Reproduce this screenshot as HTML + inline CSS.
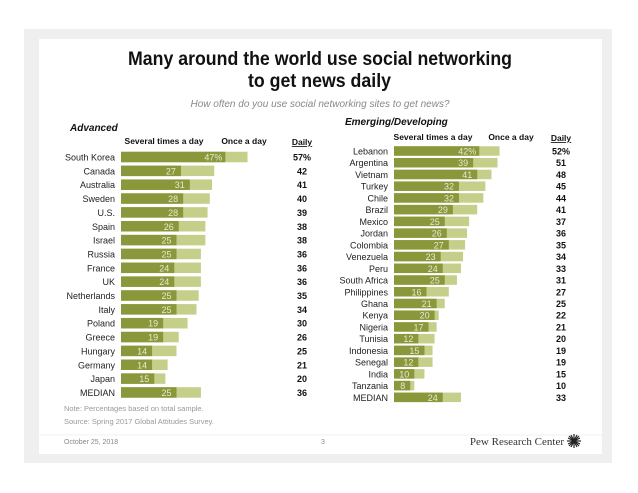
<!DOCTYPE html>
<html><head><meta charset="utf-8">
<style>
body{margin:0;width:638px;height:493px;background:#fff;overflow:hidden;font-family:"Liberation Sans",sans-serif}
svg{position:absolute;left:0;top:0}
</style></head><body>
<svg id="s" width="638" height="493">
<rect x="24" y="29" width="588" height="434" fill="#efefef"/>
<rect x="39" y="39" width="563" height="415" fill="#fff"/>
<text x="128" y="65" textLength="384" lengthAdjust="spacingAndGlyphs" font-family="Liberation Sans Narrow, Liberation Sans, sans-serif" font-weight="bold" font-size="19" fill="#111">Many around the world use social networking</text>
<text x="248" y="87" textLength="143" lengthAdjust="spacingAndGlyphs" font-family="Liberation Sans Narrow, Liberation Sans, sans-serif" font-weight="bold" font-size="19" fill="#111">to get news daily</text>
<text x="320" y="107" text-anchor="middle" font-style="italic" font-size="10" fill="#888">How often do you use social networking sites to get news?</text>
<text x="70" y="131" font-style="italic" font-weight="bold" font-size="10" fill="#111">Advanced</text>
<text x="345" y="125" font-style="italic" font-weight="bold" font-size="10" fill="#111">Emerging/Developing</text>
<text x="64" y="411" font-size="7.5" fill="#999">Note: Percentages based on total sample.</text>
<text x="64" y="424" font-size="7.5" fill="#999">Source: Spring 2017 Global Attitudes Survey.</text>
<line x1="39" y1="435" x2="602" y2="435" stroke="#f2f2f2"/>
<text x="64" y="444" font-size="7" fill="#888">October 25, 2018</text>
<text x="321" y="444" font-size="7" fill="#888">3</text>
<text x="564" y="445" text-anchor="end" font-family="Liberation Serif, serif" font-size="11" fill="#333">Pew Research Center</text>
<g stroke="#222" stroke-width="1.2">
<line x1="567" y1="441" x2="581" y2="441"/><line x1="574" y1="434" x2="574" y2="448"/>
<line x1="569" y1="436" x2="579" y2="446"/><line x1="579" y1="436" x2="569" y2="446"/>
<line x1="568" y1="438" x2="580" y2="444"/><line x1="568" y1="444" x2="580" y2="438"/>
<line x1="571" y1="435" x2="577" y2="447"/><line x1="577" y1="435" x2="571" y2="447"/>
</g>
</svg>
<script>
const advCountries=["South Korea","Canada","Australia","Sweden","U.S.","Spain","Israel","Russia","France","UK","Netherlands","Italy","Poland","Greece","Hungary","Germany","Japan","MEDIAN"];
const advSeveral=[47,27,31,28,28,26,25,25,24,24,25,25,19,19,14,14,15,25];
const advDaily=[57,42,41,40,39,38,38,36,36,36,35,34,30,26,25,21,20,36];
const emgCountries=["Lebanon","Argentina","Vietnam","Turkey","Chile","Brazil","Mexico","Jordan","Colombia","Venezuela","Peru","South Africa","Philippines","Ghana","Kenya","Nigeria","Tunisia","Indonesia","Senegal","India","Tanzania","MEDIAN"];
const emgSeveral=[42,39,41,32,32,29,25,26,27,23,24,25,16,21,20,17,12,15,12,10,8,24];
const emgDaily=[52,51,48,45,44,41,37,36,35,34,33,31,27,25,22,21,20,19,19,15,10,33];
const svg=document.getElementById('s');
const NS='http://www.w3.org/2000/svg';
function mk(tag,attrs,txt){const e=document.createElementNS(NS,tag);for(const k in attrs)e.setAttribute(k,attrs[k]);if(txt!==undefined)e.textContent=txt;svg.appendChild(e);return e;}
function panel(cfg){
  const x=v=>cfg.x0+v*cfg.scale;
  const y=i=>cfg.y0+i*cfg.pitch;
  let t;
  t=mk('text',{x:cfg.hSev,y:cfg.hy,'text-anchor':'middle','font-size':8.5,'font-weight':'bold',fill:'#111'},'Several times a day');
  
  
  t=mk('text',{x:cfg.hOnce,y:cfg.hy,'text-anchor':'middle','font-size':8.5,'font-weight':'bold',fill:'#111'},'Once a day');
  
  
  t=mk('text',{x:cfg.dx,y:cfg.hy+1,'text-anchor':'middle','font-size':8.5,'font-weight':'bold',fill:'#111','text-decoration':'underline'},'Daily');
  
  
  cfg.cats.forEach((c,i)=>{
    const cy=y(i);
    let e=mk('text',{x:cfg.lx,y:cy+3.5,'text-anchor':'end','font-size':9,fill:'#222'},c);
    
    
    e=mk('rect',{x:x(0),y:cy-cfg.bh/2,width:x(cfg.daily[i])-x(0),height:cfg.bh,fill:'#c5cf8a'});
    
    
    e=mk('rect',{x:x(0),y:cy-cfg.bh/2,width:x(cfg.sev[i])-x(0),height:cfg.bh,fill:'#8a973a'});
    
    
    const lbl=cfg.sev[i]+(i===0?'%':'');
    e=mk('text',{x:x(cfg.sev[i])-(i===0?3:5),y:cy+3.5,'text-anchor':'end','font-size':9,fill:'#e6ead0'},lbl);
    
    
    e=mk('text',{x:cfg.dx,y:cy+3.5,'text-anchor':'middle','font-size':9,'font-weight':'bold',fill:'#111'},cfg.daily[i]+(i===0?'%':''));
    
    
  });
}
panel({id:'advanced',cats:advCountries,sev:advSeveral,daily:advDaily,x0:121,scale:2.22,y0:157,pitch:13.85,bh:10.5,lx:115,dx:302,hy:144,hSev:164,hOnce:244});
panel({id:'emerging',cats:emgCountries,sev:emgSeveral,daily:emgDaily,x0:394,scale:2.03,y0:151,pitch:11.73,bh:9.5,lx:388,dx:561,hy:140,hSev:433,hOnce:511});
</script>
</body></html>
